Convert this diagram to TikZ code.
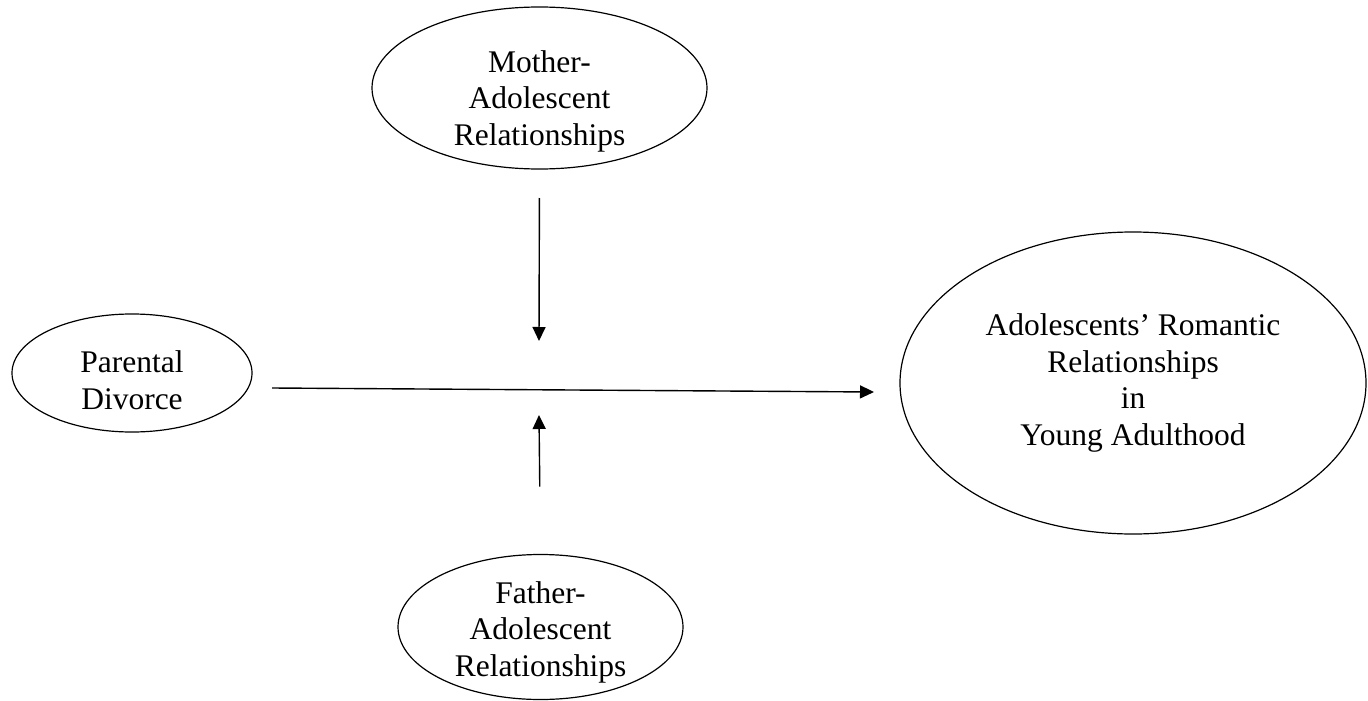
\documentclass[tikz,border=0pt]{standalone}
\usepackage{fontspec}
\setmainfont{Liberation Serif}
\usetikzlibrary{shapes.geometric,arrows.meta}

\begin{document}
\begin{tikzpicture}[x=1pt,y=-1pt,
    every node/.style={inner sep=0,outer sep=0},
    var/.style={draw,ellipse,line width=1.2pt},
    lbl/.style={align=center,font=\fontsize{31.5}{36.5}\selectfont},
    >={Triangle[length=14pt,width=13pt]},
    arr/.style={->,line width=1.4pt}]
    \useasboundingbox (0,0) rectangle (1368,701);

    \node(mom)[var,minimum width=335,minimum height=162] at (539.5,88) {};
    \node(div)[var,minimum width=240,minimum height=118] at (132,373) {};
    \node(rom)[var,minimum width=466,minimum height=302] at (1133,383) {};
    \node(dad)[var,minimum width=285,minimum height=145] at (540.5,627) {};

    \node(momtxt)[lbl] at ([yshift=-13pt]mom) {Mother-\\Adolescent\\Relationships};
    \node(divtxt)[lbl] at ([yshift=-7pt]div) {Parental\\Divorce};
    \node(romtxt)[lbl] at (rom) {Adolescents’ Romantic\\Relationships\\in\\Young Adulthood};
    \node(dadtxt)[lbl] at ([yshift=-5pt]dad) {Father-\\Adolescent\\Relationships};

    \coordinate(top) at (539,341);
    \coordinate(bot) at (539,415);

    \draw [arr] ([xshift=20pt,yshift=-15pt]div.east) -- ([xshift=-26pt,yshift=-9pt]rom.west);
    \draw [arr,shorten <=29pt] (mom.south) -- (top);
    \draw [arr,shorten <=68pt] (dad.north) -- (bot);
  \end{tikzpicture}
\end{document}
